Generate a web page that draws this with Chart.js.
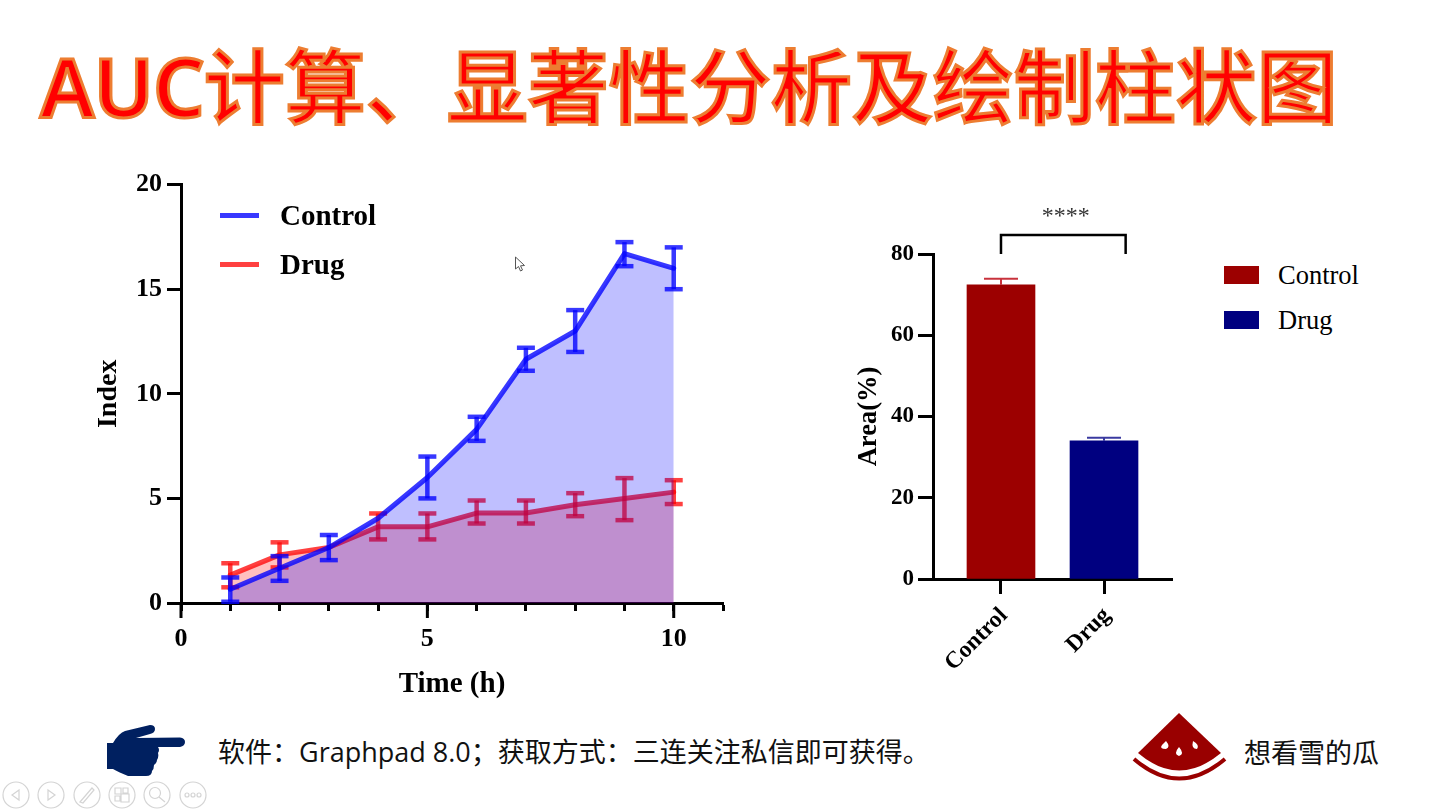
<!DOCTYPE html>
<html lang="zh-CN">
<head>
<meta charset="utf-8">
<title>AUC</title>
<script src="https://cdn.jsdelivr.net/npm/chart.js@4"></script>
<style>
    html, body { margin: 0; padding: 0; background: #fff; width: 1440px; height: 812px; overflow: hidden; }
    .abs { position: absolute; white-space: nowrap; }
    #title { left: 40px; top: 26px; font: 500 81px/112px "Noto Sans CJK SC"; color: #ff0000; -webkit-text-stroke: 3px #ed7d31; }
    #title span { font-family: "Noto Sans"; font-weight: 600; letter-spacing: -1px; }
    #footer { left: 218px; top: 733px; font: 27px/38px "Open Sans", "Noto Sans CJK SC"; color: #111; }
    #author { left: 1244px; top: 733px; font: 27px/38px "Noto Sans CJK SC"; color: #111; }
    #areaCanvasBox { left: 90px; top: 164px; width: 650px; height: 538px; }
    #barCanvasBox { left: 850px; top: 190px; width: 340px; height: 500px; }
    .legendRow { position: absolute; white-space: nowrap; color: #000; font-family: "Liberation Serif"; }
    .legendRow i { position: absolute; display: block; }
</style>
</head>
<body>
<div id="title" class="abs"><span>AUC</span>计算、显著性分析及绘制柱状图</div>

<div id="areaCanvasBox" class="abs"><canvas id="areaChart" width="650" height="538"></canvas></div>
<div id="barCanvasBox" class="abs"><canvas id="barChart" width="340" height="500"></canvas></div>
<div id="areaLegend"></div>
<div id="barLegend"></div>

<div id="footer" class="abs">软件：Graphpad 8.0；获取方式：三连关注私信即可获得。</div>
<div id="author" class="abs">想看雪的瓜</div>

<svg class="abs" style="left:0;top:0" width="1440" height="812" viewBox="0 0 1440 812">
    <!-- pointer cursor -->
    <path d="M515.5 257 L515.5 269 L518.5 266.5 L520.5 271 L522.5 270 L520.5 265.8 L524.5 265.5 Z" fill="#fff" stroke="#555" stroke-width="1"/>
    <!-- hand -->
    <path d="M107 743 L113 743 Q119 733 125 731 L150 725 Q155 725 155 729 Q155 733 150 734 L136 738 L180 737.5 Q185 738 185 742 Q185 746 180 747 L158 747 Q160 750 158 753 Q159 757 157 760 Q157 763 154 765 Q154 769 152 771 Q152 776 146 776 L128 776 Q118 772 113 769 L107 769 Z" fill="#002060"/>
    <!-- watermelon -->
    <path d="M1179 713 L1221 753 Q1179 788 1138 753 Z" fill="#990000"/>
    <path d="M1134 759 Q1179 798 1225 759" fill="none" stroke="#990000" stroke-width="4"/>
    <path d="M1166 741 Q1171 747 1166 749 Q1159 749 1162 745 Z M1179 747 Q1185 754 1179 756 Q1173 754 1179 747 Z M1193 741 Q1200 745 1197 749 Q1191 749 1193 741 Z" fill="#fff"/>
    <!-- slide show controls -->
    <g fill="none" stroke="#d4d4d4" stroke-width="1.2">
        <circle cx="16" cy="795" r="13"/><circle cx="51" cy="795" r="13"/><circle cx="87" cy="795" r="13"/>
        <circle cx="122" cy="795" r="13"/><circle cx="157" cy="795" r="13"/><circle cx="193" cy="795" r="13"/>
        <path d="M19 790 L12 795 L19 800 Z M48 790 L55 795 L48 800 Z"/>
        <path d="M80 802 L92 788 L94 790 L83 803 Z"/>
        <path d="M115 788 h6 v6 h-6 Z M123 788 h5 v5 h-5 Z M115 796 h5 v5 h-5 Z M121 794 h8 v8 h-8 Z"/>
        <circle cx="155" cy="793" r="5.5"/><path d="M159 797 L165 802"/>
        <circle cx="187" cy="795" r="2"/><circle cx="193" cy="795" r="2"/><circle cx="199" cy="795" r="2"/>
    </g>
</svg>

<script>
// courbes
const times = [1, 2, 3, 4, 5, 6, 7, 8, 9, 10];
const controlValues = [0.66, 1.66, 2.65, 4.05, 6, 8.3, 11.65, 13, 16.7, 16];
const controlLow = [0.06, 1.06, 2.05, 4.05, 5, 7.75, 11.1, 12, 16.1, 15];
const controlHigh = [1.22, 2.24, 3.25, 4.05, 7, 8.9, 12.2, 14, 17.25, 17];
const drugValues = [1.33, 2.3, 2.65, 3.64, 3.64, 4.3, 4.3, 4.7, 5, 5.3];
const drugLow = [0.75, 1.7, 2.65, 3.04, 3.04, 3.8, 3.8, 4.15, 3.96, 4.73];
const drugHigh = [1.9, 2.9, 2.65, 4.28, 4.28, 4.9, 4.9, 5.25, 5.97, 5.87];
const xLabelTicks = [0, 5, 10];

// barres
const barCategories = ['Control', 'Drug'];
const barValues = [72.4, 34];
const barErrors = [1.5, 0.8];
const barPositions = [1, 2];
const bracketEnds = [1, 2.21];
const bracketLevels = [80, 84.7];

const serifBold = size => ({ family: 'Liberation Serif', weight: 'bold', size: size });

function line(ctx, x1, y1, x2, y2) {
    ctx.beginPath();
    ctx.moveTo(x1, y1);
    ctx.lineTo(x2, y2);
    ctx.stroke();
}

// error bars of the line chart, drawn right after each dataset so the overlap order stays right
const lineErrorBars = {
    id: 'lineErrorBars',
    afterDatasetDraw(chart, args) {
        let ds = chart.data.datasets[args.index];
        let ctx = chart.ctx;
        let xs = chart.scales.x, ys = chart.scales.y;
        ctx.save();
        ctx.strokeStyle = ds.borderColor;
        ctx.lineWidth = 4.5;
        ds.data.forEach((p, i) => {
            if (ds.errLow[i] === ds.errHigh[i]) return;
            let x = xs.getPixelForValue(p.x);
            let lo = ys.getPixelForValue(ds.errLow[i]);
            let hi = ys.getPixelForValue(ds.errHigh[i]);
            line(ctx, x, lo, x, hi);
            line(ctx, x - 9, lo, x + 9, lo);
            line(ctx, x - 9, hi, x + 9, hi);
        });
        ctx.restore();
    }
};

// the labelled x ticks are longer than the others
const longTicks = {
    id: 'longTicks',
    afterDraw(chart) {
        let ctx = chart.ctx;
        let bottom = chart.chartArea.bottom;
        ctx.save();
        ctx.strokeStyle = '#000';
        ctx.lineWidth = 3;
        xLabelTicks.forEach(v => {
            let x = chart.scales.x.getPixelForValue(v);
            line(ctx, x, bottom, x, bottom + 15);
        });
        ctx.restore();
    }
};

const areaChart = new Chart(document.querySelector('#areaChart'), {
    type: 'line',
    data: {
        datasets: [{
            label: 'Control',
            data: times.map((t, i) => ({ x: t, y: controlValues[i] })),
            errLow: controlLow,
            errHigh: controlHigh,
            borderColor: 'rgba(0,0,255,0.78)',
            backgroundColor: 'rgba(0,0,255,0.25)',
            fill: 'origin'
        }, {
            label: 'Drug',
            data: times.map((t, i) => ({ x: t, y: drugValues[i] })),
            errLow: drugLow,
            errHigh: drugHigh,
            borderColor: 'rgba(255,0,0,0.75)',
            backgroundColor: 'rgba(255,0,0,0.25)',
            fill: 'origin'
        }]
    },
    options: {
        responsive: false,
        animation: false,
        clip: false,
        elements: {
            line: { borderWidth: 5, tension: 0, borderCapStyle: 'round', borderJoinStyle: 'round' },
            point: { radius: 0 }
        },
        layout: { padding: { top: 8, right: 17, left: 2 } },
        plugins: { legend: { display: false }, tooltip: { enabled: false } },
        scales: {
            x: {
                type: 'linear',
                min: 0,
                max: 11,
                afterFit: s => { s.height = 99; },
                border: { display: true, color: '#000', width: 3 },
                grid: { drawOnChartArea: false, tickLength: 8, tickWidth: 3, tickColor: '#000' },
                ticks: {
                    stepSize: 1,
                    autoSkip: false,
                    maxRotation: 0,
                    padding: 13,
                    color: '#000',
                    font: serifBold(26),
                    callback: v => xLabelTicks.includes(v) ? String(v) : ''
                },
                title: { display: true, text: 'Time (h)', color: '#000', font: serifBold(29), padding: { top: 5, bottom: 0 } }
            },
            y: {
                min: 0,
                max: 20,
                afterFit: s => { s.width = 89; },
                border: { display: true, color: '#000', width: 3 },
                grid: { drawOnChartArea: false, tickLength: 14, tickWidth: 3, tickColor: '#000' },
                ticks: { stepSize: 5, padding: 5, color: '#000', font: serifBold(26) },
                title: { display: true, text: 'Index', color: '#000', font: serifBold(28), padding: 0 }
            }
        }
    },
    plugins: [lineErrorBars, longTicks]
});

// bracket, stars and error bars of the bar chart
const barExtras = {
    id: 'barExtras',
    afterDatasetsDraw(chart) {
        let ctx = chart.ctx;
        let xs = chart.scales.x, ys = chart.scales.y;
        let ds = chart.data.datasets[0];
        ctx.save();
        ctx.lineWidth = 2;
        ds.data.forEach((p, i) => {
            let x = xs.getPixelForValue(p.x);
            let top = ys.getPixelForValue(p.y);
            let end = ys.getPixelForValue(p.y + barErrors[i]);
            ctx.strokeStyle = ds.errorColors[i];
            line(ctx, x, top, x, end);
            line(ctx, x - 17, end, x + 17, end);
        });
        let x1 = xs.getPixelForValue(bracketEnds[0]);
        let x2 = xs.getPixelForValue(bracketEnds[1]);
        let y1 = ys.getPixelForValue(bracketLevels[0]);
        let y2 = ys.getPixelForValue(bracketLevels[1]);
        ctx.strokeStyle = '#000';
        ctx.lineWidth = 2.5;
        ctx.beginPath();
        ctx.moveTo(x1, y1);
        ctx.lineTo(x1, y2);
        ctx.lineTo(x2, y2);
        ctx.lineTo(x2, y1);
        ctx.stroke();
        ctx.fillStyle = '#333';
        ctx.font = '24px "Liberation Serif"';
        ctx.textAlign = 'center';
        ctx.textBaseline = 'alphabetic';
        ctx.fillText('****', (x1 + x2) / 2 + 2.5, y2 - 12);
        ctx.restore();
    }
};

const barChart = new Chart(document.querySelector('#barChart'), {
    type: 'bar',
    data: {
        datasets: [{
            data: barPositions.map((p, i) => ({ x: p, y: barValues[i] })),
            backgroundColor: ['#9c0000', '#000080'],
            errorColors: ['#c8323c', '#3a3aa0'],
            barThickness: 68
        }]
    },
    options: {
        responsive: false,
        animation: false,
        layout: { padding: { top: 64, right: 18, left: 3 } },
        plugins: { legend: { display: false }, tooltip: { enabled: false } },
        scales: {
            x: {
                type: 'linear',
                offset: false,
                min: 0.34,
                max: 2.66,
                afterFit: s => { s.height = 111; },
                afterBuildTicks: s => { s.ticks = barPositions.map(p => ({ value: p })); },
                border: { display: true, color: '#000', width: 3 },
                grid: { offset: false, drawOnChartArea: false, tickLength: 15, tickWidth: 3, tickColor: '#000' },
                ticks: {
                    autoSkip: false,
                    minRotation: 45,
                    maxRotation: 45,
                    padding: 8,
                    labelOffset: 3,
                    color: '#000',
                    font: serifBold(23.5),
                    callback: v => barCategories[barPositions.indexOf(v)]
                }
            },
            y: {
                min: 0,
                max: 80,
                afterFit: s => { s.width = 80; },
                border: { display: true, color: '#000', width: 3 },
                grid: { drawOnChartArea: false, tickLength: 15, tickWidth: 3, tickColor: '#000' },
                ticks: { stepSize: 20, padding: 4, color: '#000', font: serifBold(23) },
                title: { display: true, text: 'Area(%)', color: '#000', font: serifBold(26.5), padding: 0 }
            }
        }
    },
    plugins: [barExtras]
});

// legends are plain html, the library cannot put them where the picture has them
function addLegend(target, rows) {
    rows.forEach(r => {
        let row = document.createElement('div');
        row.className = 'legendRow';
        row.style.left = r.textX + 'px';
        row.style.top = (r.y - 20) + 'px';
        row.style.font = r.font;
        row.textContent = r.label;
        let box = document.createElement('i');
        box.style.left = (r.boxX - r.textX) + 'px';
        box.style.top = (20 - r.boxH / 2) + 'px';
        box.style.width = r.boxW + 'px';
        box.style.height = r.boxH + 'px';
        box.style.background = r.color;
        row.appendChild(box);
        document.querySelector(target).appendChild(row);
    });
}

addLegend('#areaLegend', [
    { label: 'Control', textX: 280, boxX: 220, boxW: 39, boxH: 5, y: 215, color: 'rgba(0,0,255,0.78)', font: 'bold 29px/40px "Liberation Serif"' },
    { label: 'Drug', textX: 280, boxX: 220, boxW: 39, boxH: 5, y: 264, color: 'rgba(255,0,0,0.75)', font: 'bold 29px/40px "Liberation Serif"' }
]);
addLegend('#barLegend', [
    { label: 'Control', textX: 1278, boxX: 1224, boxW: 35, boxH: 18, y: 274.5, color: '#9c0000', font: '26.5px/40px "Liberation Serif"' },
    { label: 'Drug', textX: 1278, boxX: 1224, boxW: 35, boxH: 18, y: 319.5, color: '#000080', font: '26.5px/40px "Liberation Serif"' }
]);
</script>
</body>
</html>
